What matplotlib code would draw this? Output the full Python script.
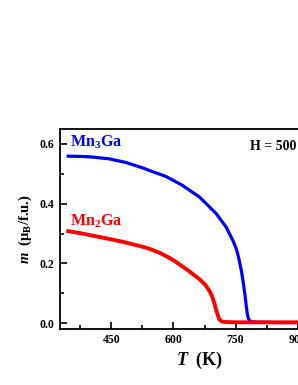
import matplotlib
matplotlib.use("Agg")
import matplotlib.pyplot as plt
import matplotlib.ticker as ticker

# values
t_mn3 = [346, 380, 405, 445, 485, 525, 542, 582, 622, 663, 703, 727, 743, 752, 758,
         764, 769, 773, 776, 778, 781, 785, 795, 808, 850, 900, 950, 1000]
m_mn3 = [0.559, 0.558, 0.556, 0.550, 0.538, 0.520, 0.511, 0.491, 0.461, 0.422, 0.367,
         0.322, 0.278, 0.248, 0.215, 0.175, 0.132, 0.090, 0.055, 0.033, 0.015, 0.007,
         0.004, 0.003, 0.002, 0.002, 0.002, 0.002]

t_mn2 = [346, 380, 405, 445, 485, 525, 542, 566, 590, 606, 635, 663, 677, 687, 694,
         699, 703, 707, 711, 716, 725, 750, 800, 900, 1000]
m_mn2 = [0.308, 0.300, 0.293, 0.282, 0.270, 0.256, 0.249, 0.236, 0.219, 0.205, 0.177,
         0.147, 0.128, 0.108, 0.087, 0.065, 0.045, 0.027, 0.013, 0.006, 0.004, 0.003,
         0.003, 0.003, 0.003]

plt.rcParams['font.family'] = 'Liberation Serif'
plt.rcParams['font.weight'] = 'bold'
plt.rcParams['mathtext.fontset'] = 'custom'
plt.rcParams['mathtext.rm'] = 'Liberation Serif:bold'
plt.rcParams['mathtext.it'] = 'Liberation Serif:italic:bold'
plt.rcParams['mathtext.bf'] = 'Liberation Serif:bold'

fig = plt.figure(figsize=(2.98, 3.85), dpi=100)
ax = fig.add_axes([0.2, 0.145, 0.938, 0.52])

ax.plot(t_mn3, m_mn3, color='#0000ff', lw=2.3)
ax.plot(t_mn2, m_mn2, color='#ff0000', lw=2.8)

ax.set_xlim(325, 1000)
ax.set_ylim(-0.02, 0.65)
ax.xaxis.set_major_locator(ticker.MultipleLocator(150))
ax.xaxis.set_minor_locator(ticker.MultipleLocator(75))
ax.yaxis.set_major_locator(ticker.MultipleLocator(0.2))
ax.yaxis.set_minor_locator(ticker.MultipleLocator(0.1))
ax.yaxis.set_major_formatter(ticker.FormatStrFormatter('%.1f'))
ax.tick_params(which='both', direction='in', labelsize=8.5, width=1.2)
ax.tick_params(which='major', length=5)
ax.tick_params(which='minor', length=3)
for lab in ax.get_xticklabels() + ax.get_yticklabels():
    lab.set_fontweight('bold')
for s in ax.spines.values():
    s.set_linewidth(1.3)

ax.set_xlabel(r'$T$  (K)', fontsize=13, fontweight='bold', labelpad=3)
ax.set_ylabel(r'$m$  (μ$_\mathrm{B}$/f.u.)', fontsize=10.5, fontweight='bold', labelpad=4)

ax.text(351, 0.592, r'Mn$_\mathrm{3}$Ga', color='#0000ff', fontsize=11.5, fontweight='bold')
ax.text(351, 0.325, r'Mn$_\mathrm{2}$Ga', color='#ff0000', fontsize=11.5, fontweight='bold')
ax.text(784, 0.58, 'H = 500 Oe', fontsize=10, fontweight='bold')

fig.savefig('out.png', dpi=100)
